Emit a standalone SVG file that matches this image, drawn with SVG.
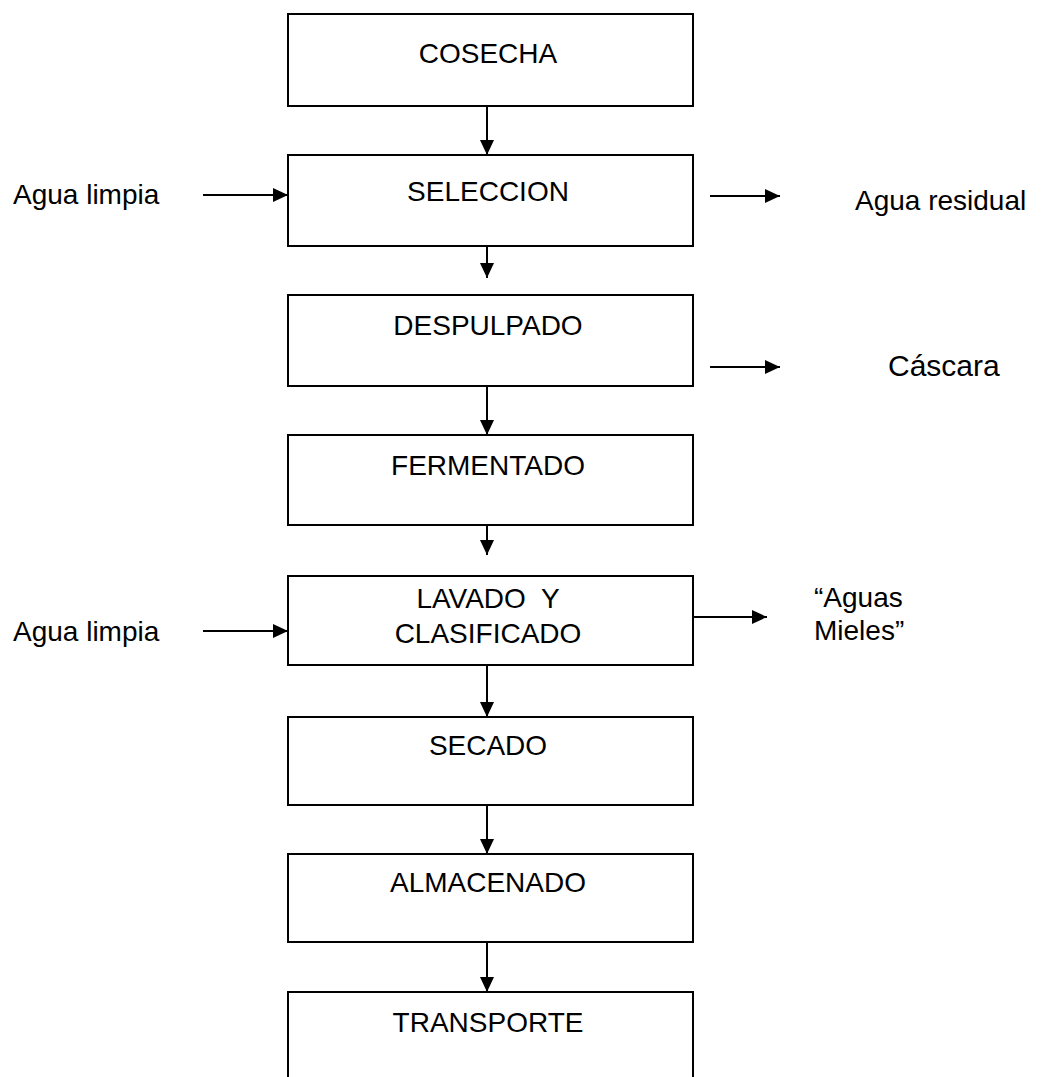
<svg xmlns="http://www.w3.org/2000/svg" width="1042" height="1077" viewBox="0 0 1042 1077">
  <style>
    .box { fill: #ffffff; stroke: #000000; stroke-width: 2; }
    .lbl { font-family: "Liberation Sans", Arial, sans-serif; font-size: 28px; fill: #000000; }
    .mid { text-anchor: middle; }
    .wire { stroke: #000000; stroke-width: 2; fill: none; marker-end: url(#head); }
  </style>
  <defs>
    <marker id="head" markerUnits="userSpaceOnUse" markerWidth="16" markerHeight="14" refX="15" refY="7" orient="auto">
      <path d="M0,0 L15,7 L0,14 z" fill="#000000"/>
    </marker>
  </defs>
  <rect width="1042" height="1077" fill="#ffffff"/>

  <!-- process steps -->
  <g id="cosecha">
    <rect class="box" x="288" y="14" width="405" height="92"/>
    <text class="lbl mid" x="488" y="63">COSECHA</text>
  </g>
  <g id="seleccion">
    <rect class="box" x="288" y="155" width="405" height="91"/>
    <text class="lbl mid" x="488" y="201">SELECCION</text>
  </g>
  <g id="despulpado">
    <rect class="box" x="288" y="295" width="405" height="91"/>
    <text class="lbl mid" x="488" y="335">DESPULPADO</text>
  </g>
  <g id="fermentado">
    <rect class="box" x="288" y="435" width="405" height="90"/>
    <text class="lbl mid" x="488" y="475">FERMENTADO</text>
  </g>
  <g id="lavado">
    <rect class="box" x="288" y="576" width="405" height="89"/>
    <text class="lbl mid" x="488" y="608" xml:space="preserve">LAVADO  Y</text>
    <text class="lbl mid" x="488" y="643">CLASIFICADO</text>
  </g>
  <g id="secado">
    <rect class="box" x="288" y="717" width="405" height="88"/>
    <text class="lbl mid" x="488" y="755">SECADO</text>
  </g>
  <g id="almacenado">
    <rect class="box" x="288" y="854" width="405" height="88"/>
    <text class="lbl mid" x="488" y="892">ALMACENADO</text>
  </g>
  <g id="transporte">
    <!-- runs off the lower edge of the page -->
    <rect class="box" x="288" y="992" width="405" height="100"/>
    <text class="lbl mid" x="488" y="1032">TRANSPORTE</text>
  </g>

  <!-- inputs and outputs -->
  <g id="agua-limpia-1">
    <text class="lbl" x="13" y="204">Agua limpia</text>
  </g>
  <g id="agua-residual">
    <text class="lbl" x="855" y="210">Agua residual</text>
  </g>
  <g id="cascara">
    <text class="lbl" x="888" y="376" style="font-size:30px">Cáscara</text>
  </g>
  <g id="agua-limpia-2">
    <text class="lbl" x="13" y="641">Agua limpia</text>
  </g>
  <g id="aguas-mieles">
    <text class="lbl" x="814" y="607">“Aguas</text>
    <text class="lbl" x="814" y="640">Mieles”</text>
  </g>

  <!-- connectors -->
  <g id="connectors">
    <line class="wire" x1="487" y1="106" x2="487" y2="155"/>
    <line class="wire" x1="487" y1="246" x2="487" y2="278"/>
    <line class="wire" x1="487" y1="386" x2="487" y2="435"/>
    <line class="wire" x1="487" y1="525" x2="487" y2="555"/>
    <line class="wire" x1="487" y1="665" x2="487" y2="717"/>
    <line class="wire" x1="487" y1="805" x2="487" y2="854"/>
    <line class="wire" x1="487" y1="942" x2="487" y2="992"/>
    <line class="wire" x1="203" y1="195" x2="288" y2="195"/>
    <line class="wire" x1="710" y1="196" x2="780" y2="196"/>
    <line class="wire" x1="710" y1="367" x2="780" y2="367"/>
    <line class="wire" x1="203" y1="631" x2="288" y2="631"/>
    <line class="wire" x1="693" y1="617" x2="767" y2="617"/>
  </g>
</svg>
